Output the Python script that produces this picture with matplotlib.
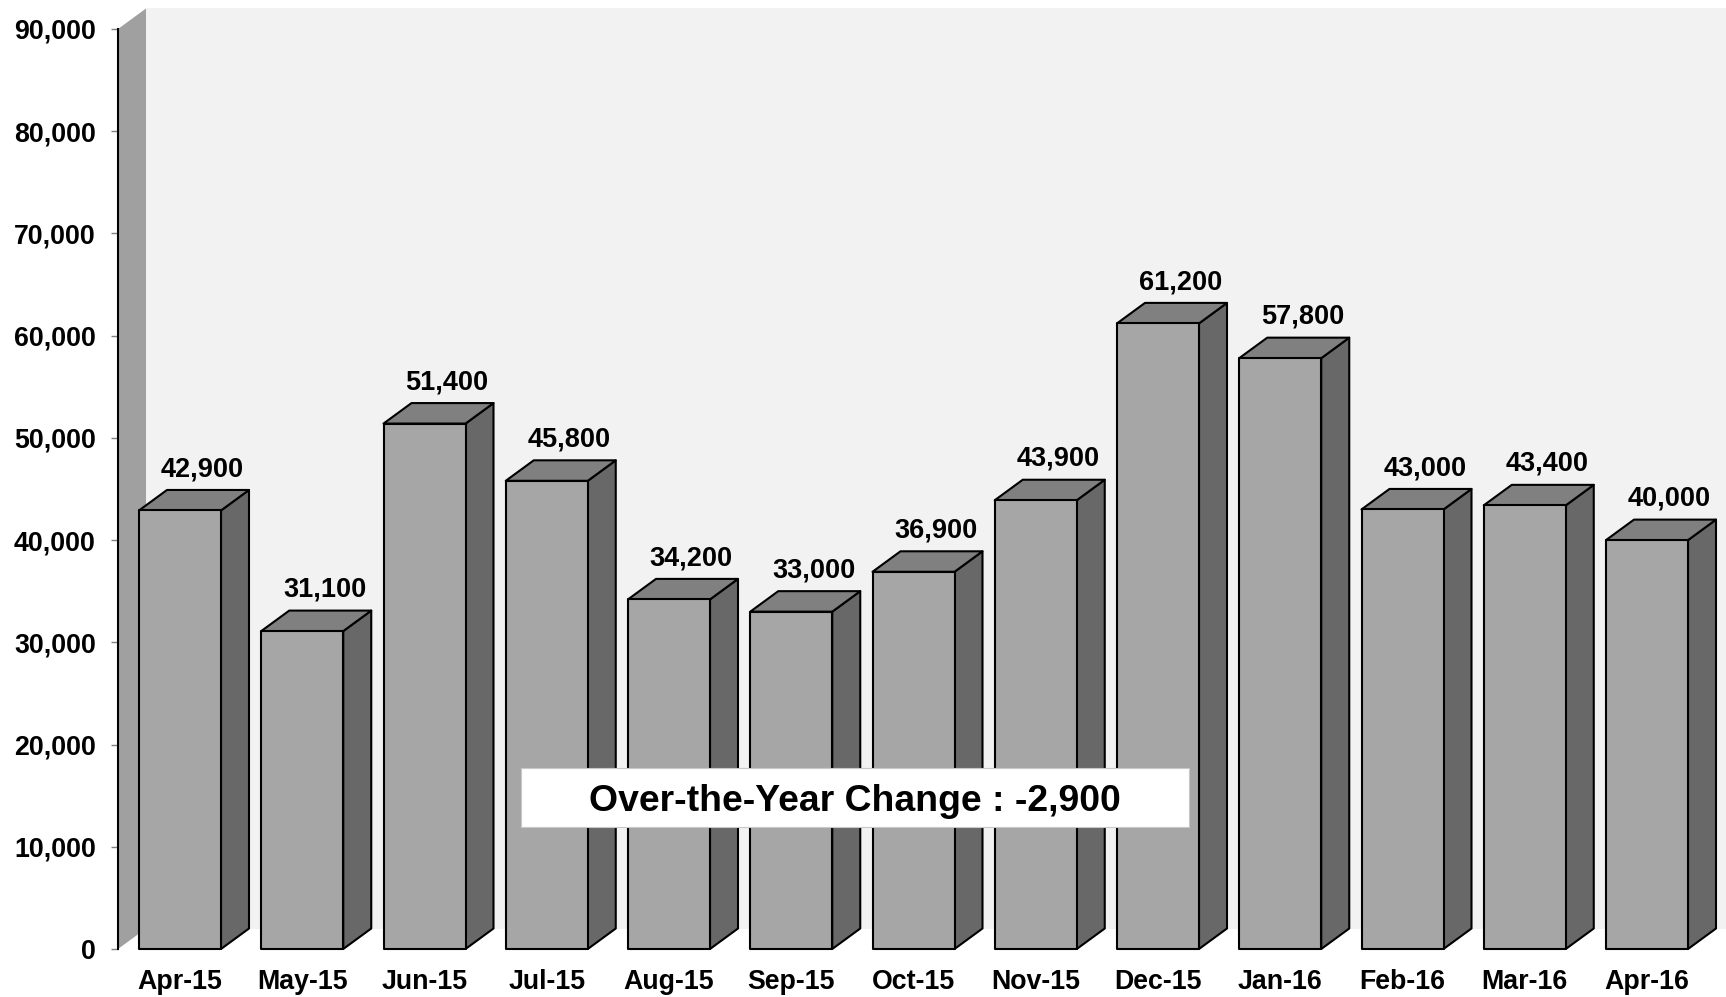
import matplotlib
matplotlib.use('Agg')
import matplotlib.pyplot as plt
from matplotlib.patches import Polygon, Rectangle
from matplotlib import font_manager
import matplotlib.ticker as mticker

plt.rcParams['font.family'] = ['Liberation Sans', 'DejaVu Sans']
plt.rcParams['font.weight'] = 'bold'

months = ['Apr-15', 'May-15', 'Jun-15', 'Jul-15', 'Aug-15', 'Sep-15', 'Oct-15',
          'Nov-15', 'Dec-15', 'Jan-16', 'Feb-16', 'Mar-16', 'Apr-16']
values = [42900, 31100, 51400, 45800, 34200, 33000, 36900,
          43900, 61200, 57800, 43000, 43400, 40000]
y_ticks = list(range(0, 90001, 10000))
note = 'Over-the-Year Change : -2,900'

FRONT = '#a6a6a6'
TOP = '#808080'
SIDE = '#686868'
WALL = '#f2f2f2'
SIDE_WALL = '#a0a0a0'

narrow = [f.name for f in font_manager.fontManager.ttflist if 'Narrow' in f.name]
note_family = ['Liberation Sans Narrow', 'Liberation Sans'] if narrow else ['Liberation Sans']

W, H = 1726, 997
fig = plt.figure(figsize=(W / 100, H / 100), dpi=100)
# axes in pixels: left 118, right 1698, top 29, bottom 949
ax = fig.add_axes([118 / W, (H - 949) / H, 1580 / W, 920 / H])
ax.set_facecolor('none')

xlim = ((118 - 180) / 122.25, (1698 - 180) / 122.25)
ylim = (0, 90000)
ax.set_xlim(*xlim)
ax.set_ylim(*ylim)

# depth offset of the 3d effect, in data units
dx = 28 / 122.25
dy = 20.5 * 90000 / 920
bw = 82 / 122.25

# back wall and side wall
ax.add_patch(Polygon([(xlim[0] + dx, dy), (xlim[1] + dx, dy),
                      (xlim[1] + dx, ylim[1] + dy), (xlim[0] + dx, ylim[1] + dy)],
                     closed=True, facecolor=WALL, edgecolor='none', clip_on=False, zorder=0))
ax.add_patch(Polygon([(xlim[0], 0), (xlim[0] + dx, dy),
                      (xlim[0] + dx, ylim[1] + dy), (xlim[0], ylim[1])],
                     closed=True, facecolor=SIDE_WALL, edgecolor='none', clip_on=False, zorder=0))

for i, v in enumerate(values):
    x0, x1 = i - bw / 2, i + bw / 2
    kw = dict(closed=True, edgecolor='black', linewidth=1.5, clip_on=False, zorder=2,
              joinstyle='round')
    ax.add_patch(Polygon([(x1, 0), (x1 + dx, dy), (x1 + dx, v + dy), (x1, v)],
                         facecolor=SIDE, **kw))
    ax.add_patch(Polygon([(x0, v), (x1, v), (x1 + dx, v + dy), (x0 + dx, v + dy)],
                         facecolor=TOP, **kw))
    ax.add_patch(Polygon([(x0, 0), (x1, 0), (x1, v), (x0, v)],
                         facecolor=FRONT, **kw))
    ax.annotate(f'{v:,}', (i + 0.8 * dx, v + dy), xytext=(0, 10), textcoords='offset points',
                ha='center', va='baseline', fontsize=19.5, fontweight='bold', zorder=3)

ax.set_xticks(range(len(months)))
ax.set_xticklabels(months)
ax.set_yticks(y_ticks)
ax.yaxis.set_major_formatter(mticker.FuncFormatter(lambda v, p: f'{int(v):,}'))
ax.tick_params(axis='x', length=0, pad=14.5, labelsize=19.3)
ax.tick_params(axis='y', length=5, width=1, color='#808080', pad=11, labelsize=19.3)
for lab in ax.get_xticklabels() + ax.get_yticklabels():
    lab.set_fontweight('bold')

for s in ['top', 'right', 'bottom']:
    ax.spines[s].set_visible(False)
ax.spines['left'].set_linewidth(1.5)
ax.spines['left'].set_zorder(4)

# note box
ax.add_patch(Rectangle((403 / 1580, (949 - 827) / 920), 668 / 1580, 59 / 920,
                       transform=ax.transAxes, facecolor='white', edgecolor='#c8c8c8',
                       linewidth=0.8, zorder=5, clip_on=False))
ax.text((855 - 118) / 1580, (949 - 797.5) / 920, note, transform=ax.transAxes,
        ha='center', va='center_baseline', fontsize=26.9, fontweight='bold',
        family=note_family, zorder=6)

fig.savefig('out.png', dpi=100)
